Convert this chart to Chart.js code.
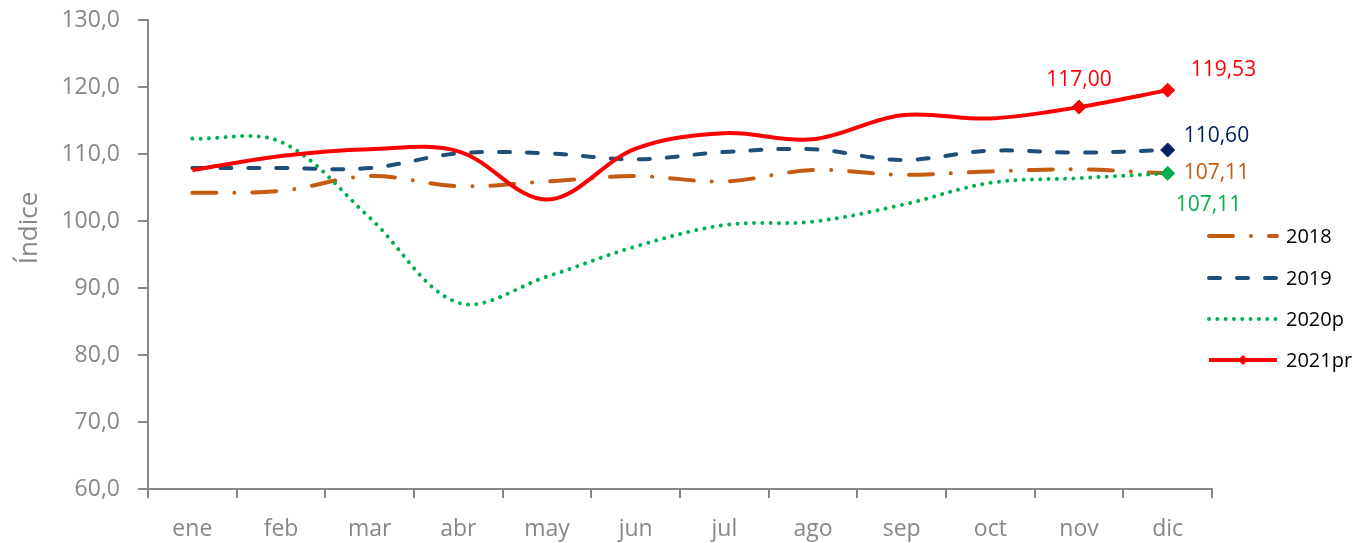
<!DOCTYPE html>
<html>
<head>
<meta charset="utf-8">
<script src="https://cdn.jsdelivr.net/npm/chart.js@4"></script>
<style>
  html, body { margin: 0; padding: 0; background: #fff; }
  #wrap { width: 1367px; height: 543px; position: relative; }
</style>
</head>
<body>
<div id="wrap"><canvas id="myChart"></canvas></div>
<script>
const meses = ['ene', 'feb', 'mar', 'abr', 'may', 'jun', 'jul', 'ago', 'sep', 'oct', 'nov', 'dic'];
const serie2018 = [104.2, 104.5, 106.7, 105.2, 105.9, 106.7, 105.9, 107.6, 106.9, 107.4, 107.7, 107.11];
const serie2019 = [107.9, 107.9, 107.9, 110.1, 110.1, 109.2, 110.3, 110.7, 109.1, 110.5, 110.2, 110.60];
const serie2020p = [112.3, 111.8, 100.5, 87.8, 91.7, 96.2, 99.4, 99.9, 102.4, 105.7, 106.4, 107.11];
const serie2021pr = [107.6, 109.7, 110.7, 110.4, 103.2, 110.8, 113.1, 112.2, 115.8, 115.3, 117.00, 119.53];
const yTicks = [60, 70, 80, 90, 100, 110, 120, 130];

const FONT = '"Open Sans", "Noto Sans", sans-serif';
const GRIS = '#878787';
const coma = (v, d) => v.toFixed(d).replace('.', ',');

// diamond markers only on the last points
const marcas = idx => ctx => idx.includes(ctx.dataIndex) ? 7 : 0;

const data = {
  labels: meses,
  datasets: [
    {
      label: '2018',
      data: serie2018,
      borderColor: '#C55A11',
      borderWidth: 4,
      borderDash: [24, 18, 0.01, 18],
      borderCapStyle: 'round',
      pointRadius: 0,
      order: 4
    },
    {
      label: '2019',
      data: serie2019,
      borderColor: '#1F4E79',
      borderWidth: 4,
      borderDash: [11, 17],
      borderCapStyle: 'round',
      pointStyle: 'rectRot',
      pointRadius: marcas([11]),
      pointBackgroundColor: '#002060',
      pointBorderColor: '#002060',
      pointBorderWidth: 1,
      order: 3
    },
    {
      label: '2020p',
      data: serie2020p,
      borderColor: '#00B050',
      borderWidth: 4,
      borderDash: [0.01, 8.3],
      borderCapStyle: 'round',
      pointStyle: 'rectRot',
      pointRadius: marcas([11]),
      pointBackgroundColor: '#00B050',
      pointBorderColor: '#00B050',
      pointBorderWidth: 1,
      order: 2
    },
    {
      label: '2021pr',
      data: serie2021pr,
      borderColor: '#FF0000',
      borderWidth: 4,
      pointStyle: 'rectRot',
      pointRadius: marcas([10, 11]),
      pointBackgroundColor: '#FF0000',
      pointBorderColor: '#FF0000',
      pointBorderWidth: 1,
      order: 1
    }
  ]
};

// value labels next to the final points
const etiquetas = {
  id: 'etiquetas',
  afterDatasetsDraw(chart) {
    const ctx = chart.ctx;
    ctx.save();
    ctx.font = '21px ' + FONT;
    ctx.textBaseline = 'middle';
    const put = (ds, i, color, dx, dy, align) => {
      const p = chart.getDatasetMeta(ds).data[i];
      ctx.fillStyle = color;
      ctx.textAlign = align;
      ctx.fillText(coma(chart.data.datasets[ds].data[i], 2), p.x + dx, p.y + dy);
    };
    put(3, 10, '#FF0000', 0, -27, 'center');
    put(3, 11, '#FF0000', 23, -20, 'left');
    put(1, 11, '#002060', 16, -14, 'left');
    put(0, 11, '#C55A11', 16, 0, 'left');
    put(2, 11, '#00B050', 8, 32, 'left');
    ctx.restore();
  }
};

// legend on the right, Excel style
const leyenda = {
  id: 'leyenda',
  afterDraw(chart) {
    const ctx = chart.ctx;
    const x0 = chart.chartArea.right - 5;
    const ys = [236, 278, 319, 360];
    ctx.save();
    chart.data.datasets.forEach((ds, k) => {
      const y = ys[k];
      ctx.strokeStyle = ds.borderColor;
      ctx.lineWidth = ds.borderWidth;
      ctx.lineCap = ds.borderCapStyle || 'butt';
      ctx.setLineDash(ds.borderDash || []);
      ctx.beginPath();
      ctx.moveTo(x0 + 2, y);
      ctx.lineTo(x0 + 70, y);
      ctx.stroke();
      if (k === 3) {
        ctx.setLineDash([]);
        ctx.fillStyle = ds.borderColor;
        ctx.beginPath();
        ctx.moveTo(x0 + 36, y - 5);
        ctx.lineTo(x0 + 41, y);
        ctx.lineTo(x0 + 36, y + 5);
        ctx.lineTo(x0 + 31, y);
        ctx.closePath();
        ctx.fill();
      }
      ctx.setLineDash([]);
      ctx.fillStyle = '#000';
      ctx.font = '20px ' + FONT;
      ctx.textAlign = 'left';
      ctx.textBaseline = 'middle';
      ctx.fillText(ds.label, x0 + 79, y + 1);
    });
    // axis title
    ctx.translate(30, 228);
    ctx.rotate(-Math.PI / 2);
    ctx.fillStyle = GRIS;
    ctx.font = '26px ' + FONT;
    ctx.textAlign = 'center';
    ctx.textBaseline = 'middle';
    ctx.fillText('Índice', 0, 0);
    ctx.restore();
  }
};

const config = {
  type: 'line',
  data,
  options: {
    responsive: true,
    maintainAspectRatio: false,
    animation: false,
    events: [],
    layout: { padding: { top: 20, right: 155, left: 0, bottom: 0 } },
    elements: { line: { tension: 0.35, fill: false } },
    scales: {
      x: {
        offset: true,
        afterFit: s => { s.height = 54; },
        border: { color: GRIS, width: 2 },
        grid: {
          offset: true,
          drawOnChartArea: false,
          drawTicks: true,
          tickLength: 9,
          color: GRIS,
          lineWidth: 2
        },
        ticks: {
          color: GRIS,
          padding: 18,
          font: { family: FONT, size: 23 }
        }
      },
      y: {
        min: yTicks[0],
        max: yTicks[yTicks.length - 1],
        afterFit: s => { s.width = 148; s.paddingTop = 0; s.paddingBottom = 0; },
        afterBuildTicks: s => { s.ticks = yTicks.map(v => ({ value: v })); },
        border: { color: GRIS, width: 2 },
        grid: {
          drawOnChartArea: false,
          drawTicks: true,
          tickLength: 10,
          color: GRIS,
          lineWidth: 2
        },
        ticks: {
          color: GRIS,
          padding: 18,
          font: { family: FONT, size: 23 },
          callback: v => coma(v, 1)
        }
      }
    },
    plugins: {
      legend: { display: false },
      tooltip: { enabled: false }
    }
  },
  plugins: [etiquetas, leyenda]
};

const myChart = new Chart(document.getElementById('myChart'), config);
</script>
</body>
</html>
